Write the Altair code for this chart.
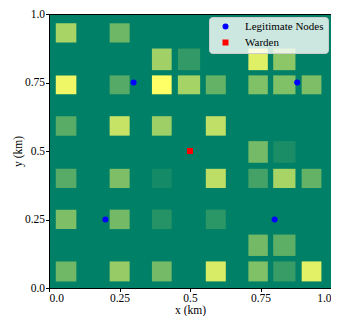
import altair as alt
import pandas as pd

# grid cell edges (km), same for x and y
edge_lo = [0.024, 0.117, 0.215, 0.365, 0.457, 0.556, 0.707, 0.795, 0.896]
edge_hi = [0.097, 0.195, 0.286, 0.435, 0.536, 0.627, 0.776, 0.874, 0.966]

# non-zero cells: column index, row index (0 = bottom), value
cell_col = [0, 2,
            3, 4, 6, 7,
            0, 2, 3, 4, 5, 6, 7, 8,
            0, 2, 3, 5,
            6, 7,
            0, 2, 3, 5, 6, 7, 8,
            0, 2, 3, 5,
            6, 7,
            0, 2, 3, 5, 6, 7, 8]
cell_row = [8, 8,
            7, 7, 7, 7,
            6, 6, 6, 6, 6, 6, 6, 6,
            5, 5, 5, 5,
            4, 4,
            3, 3, 3, 3, 3, 3, 3,
            2, 2, 2, 2,
            1, 1,
            0, 0, 0, 0, 0, 0, 0]
cell_val = [0.66, 0.43,
            0.63, 0.20, 0.88, 0.55,
            0.94, 0.33, 1.00, 0.65, 0.39, 0.50, 0.50, 0.49,
            0.35, 0.78, 0.62, 0.75,
            0.46, 0.10,
            0.34, 0.49, 0.08, 0.74, 0.27, 0.66, 0.39,
            0.49, 0.45, 0.15, 0.17,
            0.45, 0.37,
            0.44, 0.59, 0.46, 0.85, 0.50, 0.22, 0.89]

node_x = [0.3, 0.88, 0.2, 0.8]
node_y = [0.75, 0.75, 0.25, 0.25]
warden_x = [0.5]
warden_y = [0.5]

cells = pd.DataFrame({
    "x": [edge_lo[c] for c in cell_col],
    "x2": [edge_hi[c] for c in cell_col],
    "y": [edge_lo[r] for r in cell_row],
    "y2": [edge_hi[r] for r in cell_row],
    "v": cell_val,
})

pts = pd.DataFrame({
    "x": node_x + warden_x,
    "y": node_y + warden_y,
    "kind": ["Legitimate Nodes"] * len(node_x) + ["Warden"] * len(warden_x),
})

font = "Liberation Serif"
lbl = "datum.value == 0 ? '0.0' : datum.value == 1 ? '1.0' : toString(datum.value)"

xs = alt.Scale(domain=[0, 1], nice=False)
ys = alt.Scale(domain=[0, 1], nice=False)
xax = alt.Axis(values=[0, 0.25, 0.5, 0.75, 1.0], labelExpr=lbl, grid=False, title="x (km)",
               titleBaseline="alphabetic", titleY=25.5)
yax = alt.Axis(values=[0, 0.25, 0.5, 0.75, 1.0], labelExpr=lbl, grid=False, title="y (km)")

heat = alt.Chart(cells).mark_rect(strokeWidth=0).encode(
    x=alt.X("x:Q", scale=xs, axis=xax),
    x2="x2:Q",
    y=alt.Y("y:Q", scale=ys, axis=yax),
    y2="y2:Q",
    fill=alt.Fill("v:Q", scale=alt.Scale(domain=[0, 1], range=["#008066", "#ffff66"], interpolate="rgb"), legend=None),
)

kinds = ["Legitimate Nodes", "Warden"]
points = alt.Chart(pts).mark_point(filled=True, opacity=1, size=36).encode(
    x=alt.X("x:Q", scale=xs),
    y=alt.Y("y:Q", scale=ys),
    color=alt.Color("kind:N", scale=alt.Scale(domain=kinds, range=["#0000ff", "#ff0000"]),
                    legend=alt.Legend(title=None, orient="top-right", offset=3)),
    shape=alt.Shape("kind:N", scale=alt.Scale(domain=kinds, range=["circle", "square"]),
                    legend=alt.Legend(title=None, orient="top-right", offset=3)),
)

chart = alt.layer(heat, points).properties(
    width=282, height=274,
    autosize=alt.AutoSizeParams(type="none"),
    padding={"left": 41, "top": 6, "right": 0, "bottom": 28},
).configure_view(
    fill="#008066", stroke="black", strokeWidth=1
).configure_axis(
    labelFont=font, titleFont=font, labelFontSize=11.5, titleFontSize=11.5,
    titleFontWeight="normal", labelColor="black", titleColor="black",
    domainColor="black", tickColor="black", tickSize=3.5, labelPadding=1, titlePadding=1,
).configure_legend(
    labelFont=font, labelFontSize=11, labelColor="black",
    fillColor="rgba(255,255,255,0.8)", strokeColor="#cccccc", cornerRadius=3,
    padding=4, symbolSize=36, rowPadding=3, symbolOpacity=1, labelOffset=14,
    symbolOffset=7,
)

chart.save("out.html", embed_options={"renderer": "svg", "actions": False})
